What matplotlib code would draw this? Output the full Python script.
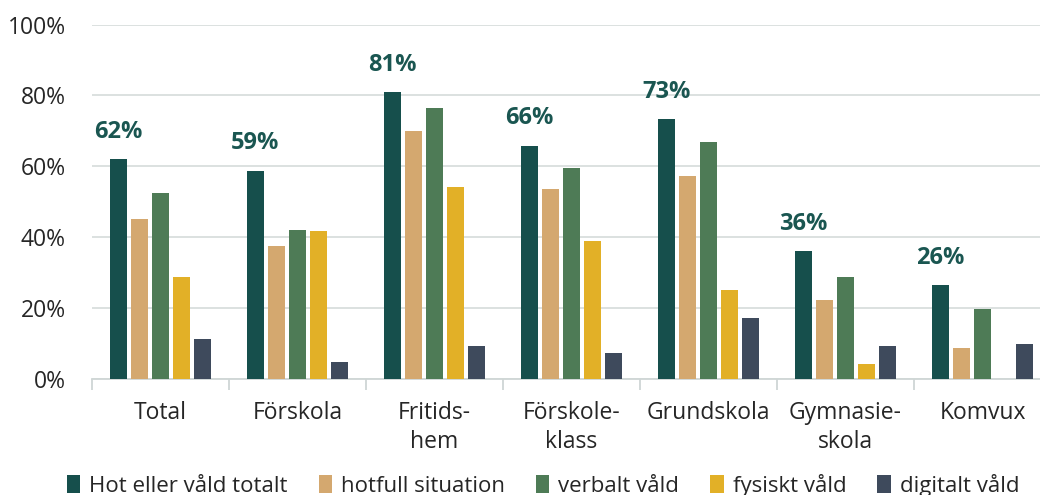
import numpy as np
import matplotlib
matplotlib.use("Agg")
import matplotlib.pyplot as plt
from matplotlib.patches import Patch

plt.rcParams['font.family'] = ['Open Sans', 'DejaVu Sans']

# data (percent)
categories = ["Total", "Förskola", "Fritids-\nhem", "Förskole-\nklass", "Grundskola", "Gymnasie-\nskola", "Komvux"]
series_names = ["Hot eller våld totalt", "hotfull situation", "verbalt våld", "fysiskt våld", "digitalt våld"]
hot_totalt = [61.9, 58.7, 80.9, 65.8, 73.2, 35.9, 26.3]
hotfull = [45.1, 37.5, 69.9, 53.6, 57.1, 22.1, 8.6]
verbalt = [52.4, 41.9, 76.4, 59.5, 66.7, 28.7, 19.6]
fysiskt = [28.8, 41.8, 54.2, 38.9, 24.9, 4.1, 0.0]
digitalt = [11.2, 4.6, 9.1, 7.1, 17.1, 9.2, 9.7]
total_labels = ["62%", "59%", "81%", "66%", "73%", "36%", "26%"]

colors = ["#164f4c", "#d4a86f", "#4e7b56", "#e2b027", "#3e4a5c"]
all_series = [hot_totalt, hotfull, verbalt, fysiskt, digitalt]

W, H = 1040, 495
fig = plt.figure(figsize=(W / 100, H / 100), dpi=100)
ax = fig.add_axes([92 / W, 116.5 / H, 959 / W, 354 / H])

x = np.arange(len(categories))
pitch = 21 / 137
width = 16.5 / 137
for i, (vals, c) in enumerate(zip(all_series, colors)):
    offs = (i - 2) * pitch
    ax.bar(x + offs, vals, width=width, color=c, zorder=3)

# labels above the first bar of each group
for xi, v, lab in zip(x, hot_totalt, total_labels):
    ax.annotate(lab, (xi - 2 * pitch, v), xytext=(0, 11), textcoords="offset points",
                ha="center", va="bottom", fontsize=17, fontweight="bold", color="#1a5651")

ax.set_xlim(-0.5, len(categories) - 0.5)
ax.set_ylim(0, 100)
ax.set_yticks(np.arange(0, 101, 20))
ax.set_yticklabels([f"{v}%" for v in range(0, 101, 20)])
ax.grid(axis="y", color="#d9dedd", linewidth=1.3, zorder=0)
ax.set_axisbelow(True)

ax.set_xticks(x)
ax.set_xticklabels(categories, linespacing=1.3)
ax.set_xticks(np.arange(-0.5, len(categories), 1), minor=True)
ax.tick_params(axis="x", which="major", length=0, pad=16, labelsize=16.5, labelcolor="#262626")
ax.tick_params(axis="x", which="minor", length=8, width=1.3, color="#cfd6d5")
ax.tick_params(axis="y", length=0, pad=19, labelsize=16.5, labelcolor="#262626")

for s in ["top", "right", "left"]:
    ax.spines[s].set_visible(False)
ax.spines["bottom"].set_color("#cfd6d5")
ax.spines["bottom"].set_linewidth(1.3)

handles = [Patch(facecolor=c) for c in colors]
fig.legend(handles, series_names, loc="center", bbox_to_anchor=(543 / W, 0.02), ncol=5,
           frameon=False, fontsize=16, handlelength=0.6, handleheight=0.9,
           handletextpad=0.4, columnspacing=1.4, labelcolor="#262626")

fig.savefig("out.png", dpi=100)
